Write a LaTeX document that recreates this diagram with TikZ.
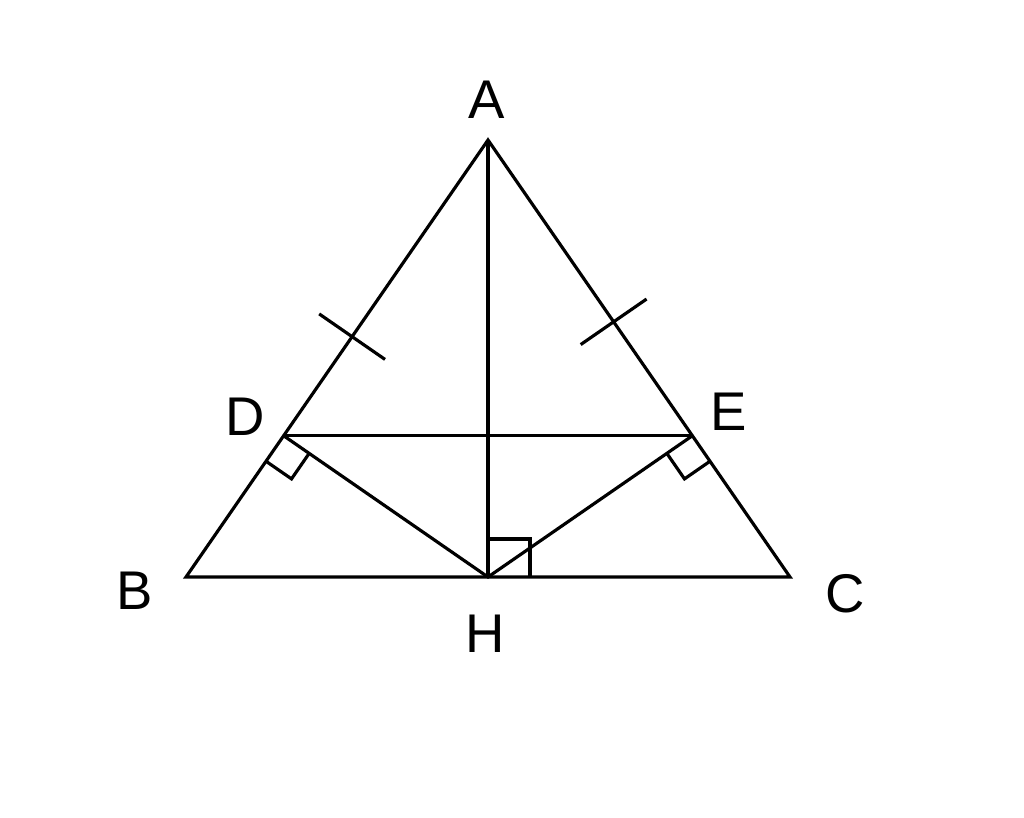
\documentclass[tikz,border=0pt]{standalone}
\usepackage{fontspec}
\setmainfont{Liberation Sans}
\usetikzlibrary{calc}

\begin{document}
\begin{tikzpicture}[
                x=0.01cm, y=-0.01cm,
                line width=0.9pt,
                line join=miter,
                lbl/.style={font=\fontsize{15.5}{18}\selectfont, inner sep=0pt},
                tick/.style={line width=0.9pt}
            ]
            \useasboundingbox (0,0) rectangle (1024,817);
            % points
            \coordinate (A) at (488,140);
            \coordinate (B) at (186,577);
            \coordinate (C) at (790,577);
            \coordinate (H) at (488,577);
            \coordinate (D) at ($(A)!(H)!(B)$);
            \coordinate (E) at ($(A)!(H)!(C)$);
            % triangle and segments
            \draw (A) -- (B) -- (C) -- cycle;
            \draw (A) -- (H);
            \draw (D) -- (E);
            \draw (D) -- (H) -- (E);
            % right angles
            \coordinate (d1) at ($(D)!0.31cm!(B)$);
            \coordinate (d2) at ($(D)!0.31cm!(H)$);
            \draw (d1) -- ($(d1)+(d2)-(D)$) -- (d2);
            \coordinate (e1) at ($(E)!0.31cm!(C)$);
            \coordinate (e2) at ($(E)!0.31cm!(H)$);
            \draw (e1) -- ($(e1)+(e2)-(E)$) -- (e2);
            \coordinate (h1) at ($(H)!0.42cm!(C)$);
            \coordinate (h2) at ($(H)!0.38cm!(A)$);
            \draw (h1) -- ($(h1)+(h2)-(H)$) -- (h2);
            % equal marks on AD and AE
            \coordinate (tD) at ($(A)!0.45!(B)$);
            \draw[tick] ($(tD)!0.4cm!90:(B)$) -- ($(tD)!0.4cm!-90:(B)$);
            \coordinate (tE) at ($(A)!0.416!(C)$);
            \draw[tick] ($(tE)!0.4cm!90:(C)$) -- ($(tE)!0.4cm!-90:(C)$);
            % labels
            \node[lbl] (lA) at (487,100) {A};
            \node[lbl] (lB) at (135,591) {B};
            \node[lbl] (lC) at (845,594) {C};
            \node[lbl] (lD) at (245,417) {D};
            \node[lbl] (lE) at (729,412) {E};
            \node[lbl] (lH) at (485,634) {H};
        \end{tikzpicture}
\end{document}
